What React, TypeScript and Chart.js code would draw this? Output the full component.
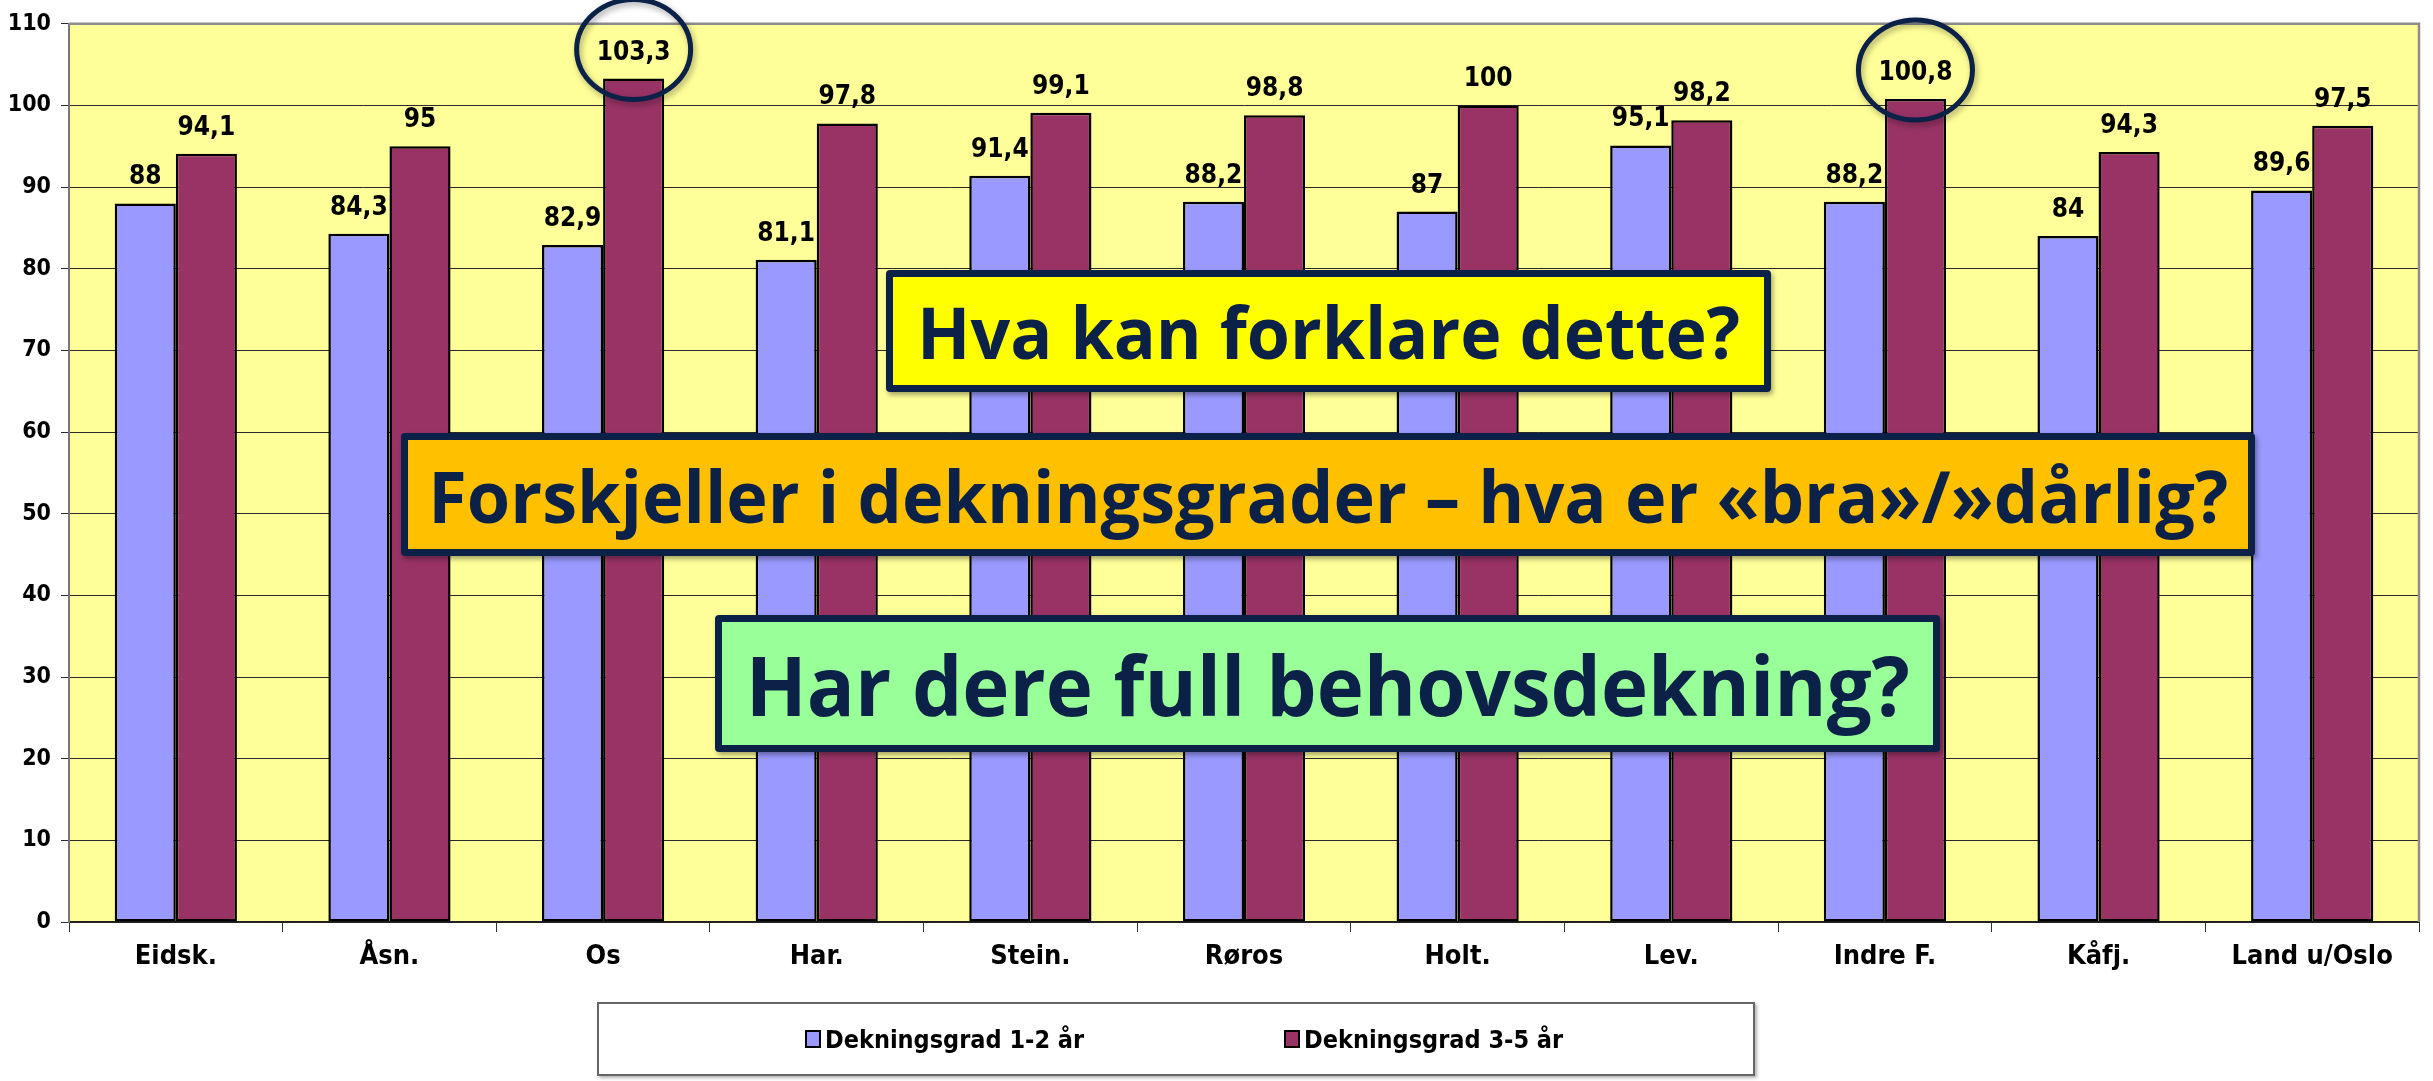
import React, { useEffect, useLayoutEffect, useRef } from "react";
import { Chart, registerables } from "chart.js";

Chart.register(...registerables);

// ---------- data ----------
const categories = ["Eidsk.", "Åsn.", "Os", "Har.", "Stein.", "Røros", "Holt.", "Lev.", "Indre F.", "Kåfj.", "Land u/Oslo"];
const dekning12 = [88, 84.3, 82.9, 81.1, 91.4, 88.2, 87, 95.1, 88.2, 84, 89.6];
const dekning35 = [94.1, 95, 103.3, 97.8, 99.1, 98.8, 100, 98.2, 100.8, 94.3, 97.5];
const seriesNames = ["Dekningsgrad 1-2 år", "Dekningsgrad 3-5 år"];
const yTickValues = [0, 10, 20, 30, 40, 50, 60, 70, 80, 90, 100, 110];
const circledCategories = ["Os", "Indre F."];
const questionTexts = [
  "Hva kan forklare dette?",
  "Forskjeller i dekningsgrader – hva er «bra»/»dårlig?",
  "Har dere full behovsdekning?",
];

// ---------- styles ----------
const W = 2433;
const H = 1081;
const NARROW = "'Liberation Sans Narrow', 'Arial Narrow', 'DejaVu Sans Condensed', 'Liberation Sans', Arial, sans-serif";
const BOXFONT = "'Open Sans', Lato, 'Noto Sans', sans-serif";
const colors = ["#9999FF", "#993366"];
const NAVY = "#0B2148";

const fmt = (v: number) => String(v).replace(".", ",");

const plotBg = {
  id: "plotBg",
  beforeDraw(chart: any) {
    const { ctx, chartArea: a } = chart;
    ctx.save();
    ctx.fillStyle = "#FFFF99";
    ctx.fillRect(a.left, a.top, a.right - a.left, a.bottom - a.top);
    ctx.restore();
  },
  afterDraw(chart: any) {
    const { ctx, chartArea: a } = chart;
    ctx.save();
    ctx.strokeStyle = "#8c8c8c";
    ctx.lineWidth = 2.5;
    ctx.beginPath();
    ctx.moveTo(a.left, a.top);
    ctx.lineTo(a.right, a.top);
    ctx.lineTo(a.right, a.bottom);
    ctx.stroke();
    ctx.restore();
  },
};

const valueLabels = {
  id: "valueLabels",
  afterDatasetsDraw(chart: any) {
    const { ctx } = chart;
    ctx.save();
    ctx.font = `bold 26px ${NARROW}`;
    ctx.fillStyle = "#000";
    ctx.textAlign = "center";
    ctx.textBaseline = "alphabetic";
    chart.data.datasets.forEach((ds: any, di: number) => {
      const meta = chart.getDatasetMeta(di);
      meta.data.forEach((bar: any, i: number) => {
        ctx.fillText(fmt(ds.data[i]), bar.x, bar.y - 19);
      });
    });
    ctx.restore();
  },
};

const circles = {
  id: "circles",
  afterDraw(chart: any) {
    const { ctx } = chart;
    const meta = chart.getDatasetMeta(1);
    ctx.save();
    ctx.strokeStyle = NAVY;
    ctx.lineWidth = 5;
    ctx.shadowColor = "rgba(0,0,0,0.35)";
    ctx.shadowBlur = 6;
    ctx.shadowOffsetX = 2;
    ctx.shadowOffsetY = 3;
    circledCategories.forEach((c) => {
      const i = chart.data.labels.indexOf(c);
      const bar = meta.data[i];
      ctx.beginPath();
      ctx.ellipse(bar.x, bar.y - 29, 57, 50, 0, 0, Math.PI * 2);
      ctx.stroke();
    });
    ctx.restore();
  },
};

function ChartCanvas() {
  const ref = useRef<HTMLCanvasElement | null>(null);
  useEffect(() => {
    if (!ref.current) return;
    const chart = new Chart(ref.current, {
      type: "bar",
      data: {
        labels: categories,
        datasets: [
          {
            label: seriesNames[0],
            data: dekning12,
            backgroundColor: colors[0],
            borderColor: "#000",
            borderWidth: 2.5,
            borderSkipped: false,
          },
          {
            label: seriesNames[1],
            data: dekning35,
            backgroundColor: colors[1],
            borderColor: "#000",
            borderWidth: 2.5,
            borderSkipped: false,
          },
        ],
      },
      options: {
        animation: false,
        responsive: false,
        devicePixelRatio: 1,
        layout: { padding: { top: 23, right: 14, bottom: 99, left: 0 } },
        datasets: { bar: { categoryPercentage: 0.572, barPercentage: 1 } },
        plugins: { legend: { display: false }, tooltip: { enabled: false } },
        scales: {
          x: {
            grid: { drawOnChartArea: false, drawTicks: true, tickLength: 10, color: "#333", offset: true },
            border: { color: "#222", width: 2 },
            ticks: { color: "#000", font: { family: NARROW, size: 27, weight: "bold" }, padding: 9, maxRotation: 0, autoSkip: false },
            afterFit: (s: any) => { s.height = 60; },
          },
          y: {
            min: 0,
            max: 110,
            afterBuildTicks: (s: any) => { s.ticks = yTickValues.map((v) => ({ value: v })); },
            grid: { color: "#2a2a2a", lineWidth: 1, tickLength: 8 },
            border: { color: "#777", width: 2 },
            ticks: { color: "#000", font: { family: NARROW, size: 23, weight: "bold" }, padding: 10 },
            afterFit: (s: any) => { s.width = 69; },
          },
        },
      },
      plugins: [plotBg, valueLabels, circles],
    } as any);
    return () => chart.destroy();
  }, []);
  return <canvas ref={ref} width={W} height={H} style={{ position: "absolute", left: 0, top: 0, width: W, height: H }} />;
}

const boxBase: React.CSSProperties = {
  position: "absolute",
  boxSizing: "border-box",
  border: `7px solid ${NAVY}`,
  borderRadius: 4,
  display: "flex",
  alignItems: "center",
  justifyContent: "center",
  color: NAVY,
  fontFamily: BOXFONT,
  fontWeight: 700,
  lineHeight: 1,
  whiteSpace: "nowrap",
  boxShadow: "2px 3px 5px rgba(0,0,0,0.35)",
};

function QuestionBox({ text, textWidth, style }: { text: string; textWidth: number; style: React.CSSProperties }) {
  const spanRef = useRef<HTMLSpanElement | null>(null);
  useLayoutEffect(() => {
    const el = spanRef.current;
    if (!el) return;
    el.style.transform = "none";
    const w = el.getBoundingClientRect().width;
    if (w > 0) el.style.transform = `scaleX(${textWidth / w})`;
  }, [text, textWidth]);
  return (
    <div style={{ ...boxBase, ...style }}>
      <span ref={spanRef} style={{ display: "inline-block", transformOrigin: "center center" }}>
        {text}
      </span>
    </div>
  );
}

export default function App() {
  return (
    <div style={{ position: "absolute", left: 0, top: 0, width: W, height: H, background: "#fff", overflow: "hidden" }}>
      <ChartCanvas />
      <QuestionBox text={questionTexts[0]} textWidth={823} style={{ left: 886, top: 270, width: 885, height: 122, background: "#FFFF00", fontSize: 72 }} />
      <QuestionBox text={questionTexts[1]} textWidth={1800} style={{ left: 401, top: 433, width: 1854, height: 123, background: "#FFC000", fontSize: 72 }} />
      <QuestionBox text={questionTexts[2]} textWidth={1164} style={{ left: 715, top: 615, width: 1225, height: 137, background: "#99FF99", fontSize: 83 }} />
      <div
        style={{
          position: "absolute",
          left: 597,
          top: 1002,
          width: 1158,
          height: 74,
          boxSizing: "border-box",
          border: "2px solid #666",
          background: "#fff",
          boxShadow: "2px 2px 3px rgba(0,0,0,0.3)",
          fontFamily: NARROW,
          fontWeight: 700,
          fontSize: 25,
          color: "#000",
        }}
      >
        {seriesNames.map((name, i) => (
          <div key={name} style={{ position: "absolute", left: i === 0 ? 206 : 685, top: 0, height: 70, display: "flex", alignItems: "center", whiteSpace: "nowrap" }}>
            <span style={{ display: "inline-block", width: 12, height: 14, background: colors[i], border: "2px solid #000", marginRight: 4 }} />
            <span>{name}</span>
          </div>
        ))}
      </div>
    </div>
  );
}
